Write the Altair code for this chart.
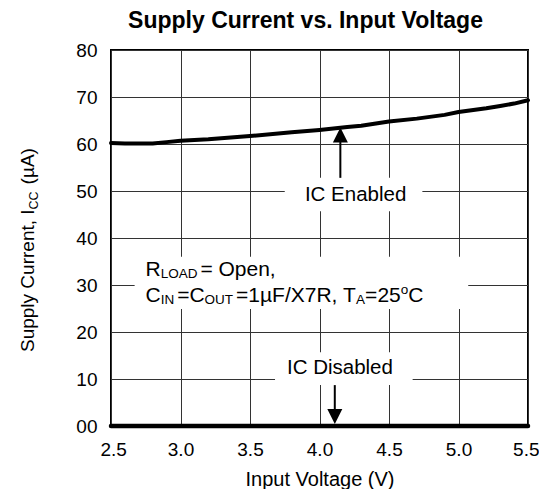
import altair as alt
import pandas as pd

# ---------------- data ----------------
voltage = [2.5, 2.6, 2.8, 2.9, 3.0, 3.2, 3.5, 3.8, 4.0, 4.2, 4.3, 4.5, 4.7, 4.9, 5.0, 5.2, 5.3, 5.4, 5.5]
icc_enabled = [60.2, 60.1, 60.1, 60.4, 60.7, 61.0, 61.7, 62.5, 63.0, 63.6, 63.9, 64.8, 65.4, 66.2, 66.8, 67.6, 68.1, 68.6, 69.3]
disabled_voltage = [2.5, 5.5]
icc_disabled = [0.0, 0.0]
x_ticks = [2.5, 3.0, 3.5, 4.0, 4.5, 5.0, 5.5]
y_ticks = [0, 10, 20, 30, 40, 50, 60, 70, 80]
title_text = "Supply Current vs. Input Voltage"
x_title = "Input Voltage (V)"
label_enabled = "IC Enabled"
label_disabled = "IC Disabled"

FONT = "Liberation Sans"
W, H = 417, 376

# Arial / Liberation Sans advance widths (per 1000 em)
ADV = {' ': 278, ',': 278, '.': 278, '(': 333, ')': 333, '=': 584, '/': 278,
       '1': 556, '2': 556, '5': 556, '7': 556, 'µ': 576,
       'A': 667, 'C': 722, 'D': 722, 'E': 667, 'F': 611, 'I': 278, 'L': 556,
       'N': 722, 'O': 778, 'R': 722, 'S': 667, 'T': 611, 'U': 722, 'X': 667,
       'a': 556, 'b': 556, 'c': 500, 'd': 556, 'e': 556, 'l': 222, 'n': 556,
       'o': 556, 'p': 556, 'r': 333, 't': 278, 'u': 556, 'y': 500}


def tw(s, size):
    return sum(ADV.get(c, 556) for c in s) * size / 1000.0


xs = alt.Scale(domain=[2.5, 5.5], nice=False, zero=False)
ys = alt.Scale(domain=[0, 80], nice=False, zero=False)

x_axis = alt.Axis(values=x_ticks, format=".1f", grid=True, gridColor="#333333", gridWidth=1,
                  ticks=False, tickSize=0, domain=False, labelFont=FONT, labelFontSize=19,
                  labelColor="black", labelPadding=14, labelFlush=True, labelFlushOffset=11,
                  title=x_title, titleFont=FONT, titleFontSize=20, titleFontWeight="normal",
                  titleColor="black", titleY=59, titleBaseline="alphabetic")
y_axis = alt.Axis(values=y_ticks, labelExpr="datum.value == 0 ? '00' : datum.label",
                  grid=True, gridColor="#333333", gridWidth=1, ticks=False, tickSize=0,
                  domain=False, labelFont=FONT, labelFontSize=19, labelColor="black",
                  labelPadding=14, labelFlush=False, title=None)


def X(field="v"):
    return alt.X(f"{field}:Q", scale=xs, axis=x_axis)


def Y(field="i"):
    return alt.Y(f"{field}:Q", scale=ys, axis=y_axis)


layers = []

# white boxes behind annotation texts (hide gridlines)
boxes = pd.DataFrame({"v": [3.75, 3.68, 2.67], "v2": [4.74, 4.67, 5.07],
                      "i": [45.7, 8.7, 24.9], "i2": [52.8, 15.7, 36.0]})
layers.append(alt.Chart(boxes).mark_rect(fill="white").encode(
    x=X(), x2="v2:Q", y=Y(), y2="i2:Q"))

# enabled curve
df_en = pd.DataFrame({"v": voltage, "i": icc_enabled})
layers.append(alt.Chart(df_en).mark_line(color="black", strokeWidth=4, strokeCap="round",
                                         strokeJoin="round").encode(x=X(), y=Y()))

# disabled line
df_dis = pd.DataFrame({"v": disabled_voltage, "i": icc_disabled})
layers.append(alt.Chart(df_dis).mark_line(color="black", strokeWidth=4.5, strokeCap="round").encode(
    x=X(), y=Y()))

# arrow shafts
shafts = pd.DataFrame({"v": [4.15, 4.11], "i": [52.8, 8.7], "i2": [60.8, 3.3]})
layers.append(alt.Chart(shafts).mark_rule(color="black", strokeWidth=2).encode(
    x=X(), y=Y(), y2="i2:Q"))

# arrow heads
head_up = pd.DataFrame({"v": [4.15], "i": [63.5]})
layers.append(alt.Chart(head_up).mark_point(shape="M0,0L-0.5,1L0.5,1Z", filled=True, size=900,
                                            color="black", opacity=1, strokeWidth=0).encode(
    x=X(), y=Y()))
head_down = pd.DataFrame({"v": [4.11], "i": [0.4]})
layers.append(alt.Chart(head_down).mark_point(shape="M0,0L-0.5,-1L0.5,-1Z", filled=True, size=900,
                                              color="black", opacity=1, strokeWidth=0).encode(
    x=X(), y=Y()))

# IC Enabled / Disabled labels
lab = pd.DataFrame({"v": [4.26, 4.147], "i": [47.9, 11.06], "t": [label_enabled, label_disabled]})
layers.append(alt.Chart(lab).mark_text(font=FONT, fontSize=20.5, align="center",
                                       baseline="alphabetic", color="black").encode(
    x=X(), y=Y(), text="t:N"))


def seg_layers(v, i, segments):
    out = []
    off = 0.0
    df = pd.DataFrame({"v": [v], "i": [i]})
    for text, size, dy, gap in segments:
        off += gap
        out.append(alt.Chart(df).mark_text(text=text, font=FONT, fontSize=size, dx=off, dy=dy,
                                           align="left", baseline="alphabetic",
                                           color="black").encode(x=X(), y=Y()))
        off += tw(text, size)
    return out


MAIN, SUB = 21, 13.5
line1 = [("R", MAIN, 0, 0), ("LOAD", SUB, 2, 0), ("= Open,", MAIN, 0, 3)]
line2 = [("C", MAIN, 0, 0), ("IN", SUB, 2, 0), ("=C", MAIN, 0, 3), ("OUT", SUB, 2, 0),
         ("=1µF/X7R, T", MAIN, 0, 3), ("A", SUB, 2, 0), ("=25", MAIN, 0, 0),
         ("o", SUB, -8, 0), ("C", MAIN, 0, 0)]
layers += seg_layers(2.748, 31.98, line1)
layers += seg_layers(2.748, 26.3, line2)

one = pd.DataFrame({"k": [0]})

# rotated y-axis title with subscript
ytitle = [("Supply Current, I", 19, 0, 0), ("CC", 12.5, 3.5, 0), ("(µA)", 19, 0, 7)]
off = 0.0
for text, size, dy, gap in ytitle:
    off += gap
    layers.append(alt.Chart(one).mark_text(text=text, font=FONT, fontSize=size, dx=off, dy=dy,
                                           angle=270, align="left", baseline="alphabetic",
                                           color="black").encode(
        x=alt.value(-77), y=alt.value(302)))
    off += tw(text, size)

# chart title
layers.append(alt.Chart(one).mark_text(text=title_text, font=FONT, fontSize=23, fontWeight="bold",
                                       align="center", baseline="alphabetic", color="black").encode(
    x=alt.value(W / 2 - 14), y=alt.value(-22)))

chart = alt.layer(*layers).properties(
    width=W, height=H,
    padding={"left": 103, "top": 42, "right": 11, "bottom": 63},
    autosize=alt.AutoSizeParams(type="none"),
).configure_view(stroke="black", strokeWidth=2)

chart.save("out.html", embed_options={"renderer": "svg", "actions": False})
